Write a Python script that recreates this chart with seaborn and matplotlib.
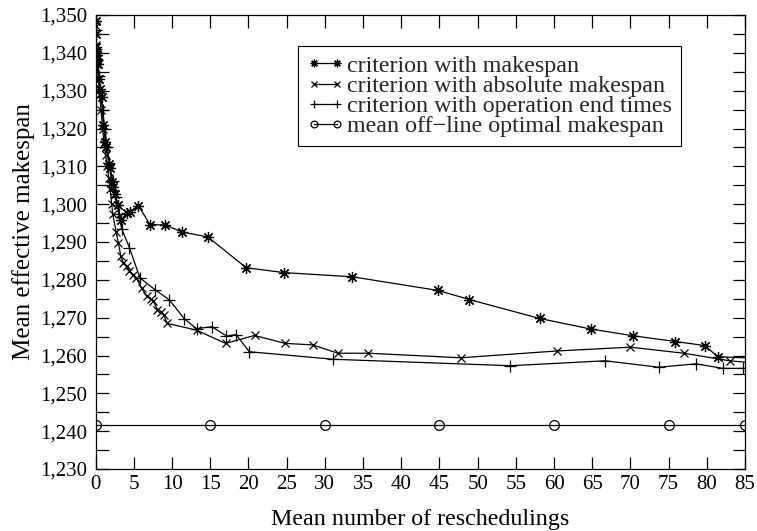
import matplotlib
matplotlib.use("Agg")
import matplotlib.pyplot as plt
import matplotlib.ticker as mticker
import seaborn as sns
import numpy as np

# ---- data ----
x_makespan = [0.0, 0.05, 0.08, 0.1, 0.15, 0.2, 0.3, 0.45, 0.6, 0.8, 1.0, 1.25, 1.4, 1.7, 1.85,
              2.1, 2.3, 2.55, 2.9, 3.3, 4.1, 4.5, 5.6, 7.1, 9.1, 11.25, 14.7, 19.7, 24.7, 33.6,
              44.8, 48.9, 58.1, 64.8, 70.4, 75.9, 79.8, 81.4, 85.8]
y_makespan = [1348.5, 1345.0, 1341.5, 1340.5, 1339.5, 1338.5, 1337.0, 1333.0, 1330.5, 1328.3, 1320.8,
              1316.4, 1315.0, 1310.7, 1309.5, 1305.8, 1304.5, 1302.7, 1299.8, 1295.7, 1297.7, 1298.0,
              1299.6, 1294.6, 1294.5, 1292.7, 1291.3, 1283.2, 1281.9, 1280.8, 1277.2, 1274.8, 1269.8,
              1267.0, 1265.2, 1263.7, 1262.6, 1259.7, 1259.3]

x_absolute = [0.0, 0.05, 0.1, 0.2, 0.35, 0.5, 0.7, 0.9, 1.1, 1.3, 1.5, 1.7, 1.9, 2.1, 2.23, 2.67,
              2.97, 3.28, 3.62, 4.07, 4.41, 4.93, 5.3, 6.0, 6.7, 7.2, 7.55, 8.07, 8.6, 8.9, 9.37,
              13.2, 17.0, 20.8, 24.8, 28.4, 31.7, 35.7, 47.8, 60.4, 70.0, 77.0, 83.0, 85.8]
y_absolute = [1347.0, 1342.0, 1340.0, 1337.0, 1333.0, 1329.0, 1325.0, 1320.0, 1316.0, 1313.0, 1310.0,
              1307.0, 1304.0, 1300.0, 1297.4, 1292.7, 1289.8, 1286.3, 1284.5, 1283.6, 1282.3, 1281.4,
              1280.6, 1277.8, 1275.6, 1275.0, 1274.5, 1272.1, 1271.6, 1270.7, 1268.5, 1266.7, 1263.2,
              1265.3, 1263.2, 1262.8, 1260.6, 1260.6, 1259.4, 1261.2, 1262.2, 1260.6, 1258.6, 1258.1]

x_endtimes = [0.0, 0.1, 0.2, 0.4, 0.6, 0.9, 1.2, 1.5, 1.8, 2.2, 2.6, 3.0, 3.41, 4.41, 5.8, 7.76,
              9.64, 11.6, 13.2, 15.2, 17.1, 18.4, 20.1, 31.1, 54.3, 66.7, 73.7, 78.6, 82.1, 84.7]
y_endtimes = [1346.0, 1341.0, 1338.0, 1334.0, 1330.0, 1325.0, 1320.0, 1315.0, 1311.0, 1306.0, 1302.0,
              1297.5, 1293.4, 1288.5, 1280.5, 1277.4, 1274.7, 1269.7, 1267.1, 1267.6, 1265.2, 1265.5,
              1261.0, 1259.0, 1257.3, 1258.6, 1256.9, 1257.8, 1256.6, 1256.6]

x_optimal = [0, 15, 30, 45, 60, 75, 85]
y_optimal = [1241.7, 1241.7, 1241.7, 1241.7, 1241.7, 1241.7, 1241.7]

labels = ["criterion with makespan", "criterion with absolute makespan",
          "criterion with operation end times", "mean off\u2212line optimal makespan"]

x_ticks = list(range(0, 90, 5))
y_ticks = list(range(1230, 1360, 10))

# ---- style ----
sns.set_theme(style="white")
plt.rcParams["font.family"] = ["Liberation Serif", "DejaVu Serif"]
plt.rcParams["axes.edgecolor"] = "black"
plt.rcParams["axes.linewidth"] = 0.9

fig = plt.figure(figsize=(7.57, 5.31), dpi=100)
ax = fig.add_axes([95.7 / 757, 1 - 469 / 531, 649.3 / 757, 454 / 531])

common = dict(color="black", linewidth=0.9, sort=False, estimator=None, ax=ax)
sns.lineplot(x=x_makespan, y=y_makespan, marker=(8, 2, 0), markersize=8,
             markeredgewidth=0.9, markeredgecolor="black", label=labels[0], **common)
sns.lineplot(x=x_absolute, y=y_absolute, marker="x", markersize=5.5,
             markeredgewidth=0.9, markeredgecolor="black", label=labels[1], **common)
sns.lineplot(x=x_endtimes, y=y_endtimes, marker="+", markersize=8,
             markeredgewidth=0.9, markeredgecolor="black", label=labels[2], **common)
sns.lineplot(x=x_optimal, y=y_optimal, marker="o", markersize=7, markerfacecolor="none",
             markeredgewidth=0.9, markeredgecolor="black", label=labels[3], **common)

for ln in ax.get_lines():
    ln.set_clip_on(True)

ax.set_xlim(0, 85)
ax.set_ylim(1230, 1350)
ax.set_xticks(x_ticks)
ax.set_yticks(y_ticks)
ax.yaxis.set_minor_locator(mticker.MultipleLocator(5))
ax.yaxis.set_major_formatter(mticker.FuncFormatter(lambda v, p: f"{int(round(v)):,}"))
ax.tick_params(axis="both", which="both", direction="in", top=True, right=True,
               bottom=True, left=True, length=9, width=0.9, color="black",
               labelsize=15, labelcolor="black")
ax.tick_params(axis="x", pad=4)
ax.tick_params(axis="y", pad=6)
for s in ax.spines.values():
    s.set_visible(True)
    s.set_color("black")
    s.set_linewidth(0.9)

ax.set_xlabel("Mean number of reschedulings", fontsize=17.3, labelpad=11, color="black")
ax.set_ylabel("Mean effective makespan", fontsize=18, color="black")
ax.yaxis.set_label_coords(-0.094, 0.524)

leg = ax.legend(loc="upper right", bbox_to_anchor=(0.902, 0.932), borderaxespad=0,
                fontsize=17.3, numpoints=2, handlelength=1.54, handletextpad=0.15,
                labelspacing=-0.07, borderpad=0.38, frameon=True, fancybox=False,
                edgecolor="black", framealpha=1)
leg.get_frame().set_linewidth(0.8)
for h in leg.legend_handles:
    h.set_markersize(h.get_markersize() * 0.7)

fig.savefig("out.png", dpi=100, facecolor="white")
